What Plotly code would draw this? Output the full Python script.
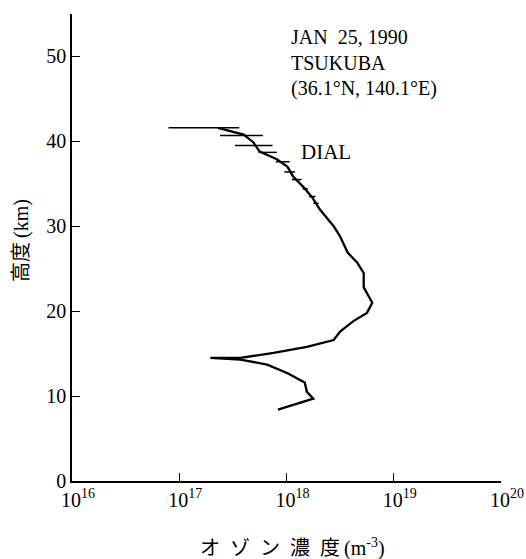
import numpy as np
import plotly.graph_objects as go

# Ozone profile (altitude km, log10 concentration m^-3)
alt_km = [41.6, 41.3, 40.8, 39.9, 38.8, 37.9, 37.0, 35.9, 34.6, 33.4, 32.0, 30.0,
          28.8, 26.9, 25.7, 24.5, 22.8, 21.0, 19.8, 18.8, 17.6, 16.6, 15.8, 15.1,
          14.5, 14.5, 14.3, 13.7, 12.7, 11.6, 10.5, 9.7, 9.2, 8.4]
log_conc = [17.36, 17.45, 17.60, 17.69, 17.75, 17.91, 18.01, 18.06, 18.16, 18.24,
            18.31, 18.44, 18.50, 18.57, 18.66, 18.72, 18.72, 18.80, 18.75, 18.62,
            18.50, 18.44, 18.19, 17.88, 17.57, 17.29, 17.57, 17.82, 18.01, 18.17,
            18.19, 18.25, 18.13, 17.92]

# Error bars (altitude, low and high log10 concentration)
err_alt = [41.6, 40.7, 39.5, 38.7, 37.6, 36.4, 35.5, 34.4, 33.5, 32.7]
err_low = [16.90, 17.38, 17.52, 17.74, 17.90, 17.98, 18.05, 18.15, 18.21, 18.25]
err_high = [17.56, 17.78, 17.87, 17.91, 18.03, 18.08, 18.14, 18.20, 18.27, 18.30]

x_tick_exp = [16, 17, 18, 19, 20]
y_ticks = [0, 10, 20, 30, 40, 50]

info_lines = ["JAN  25, 1990", "TSUKUBA", "(36.1°N, 140.1°E)"]

conc = [10.0 ** v for v in log_conc]

ex, ey = [], []
for a, lo, hi in zip(err_alt, err_low, err_high):
    ex += [10.0 ** lo, 10.0 ** hi, None]
    ey += [a, a, None]

SERIF = "Liberation Serif, 'Noto Sans CJK JP', serif"

fig = go.Figure()
fig.add_trace(go.Scatter(x=ex, y=ey, mode="lines",
                         line=dict(color="black", width=1.5), hoverinfo="skip",
                         showlegend=False))
fig.add_trace(go.Scatter(x=conc, y=alt_km, mode="lines",
                         line=dict(color="black", width=2.3), showlegend=False))

annotations = []
for i, t in enumerate(info_lines):
    annotations.append(dict(text=t, xref="paper", yref="paper",
                            x=0.505, y=0.951 - i * 0.0555,
                            xanchor="left", yanchor="middle", align="left",
                            showarrow=False, font=dict(size=20, family=SERIF)))
annotations += [
    dict(text="DIAL", xref="paper", yref="paper", x=0.529, y=0.705,
         xanchor="left", yanchor="middle", showarrow=False,
         font=dict(size=21, family=SERIF)),
    dict(text="オ\u2002ゾ\u2002ン\u2002濃\u2002度\u2009(m<sup>-3</sup>)",
         xref="paper", yref="paper",
         x=0.513, y=-0.143, xanchor="center", yanchor="middle",
         showarrow=False, font=dict(size=20, family=SERIF)),
    dict(text="高度\u2009(km)", xref="paper", yref="paper", x=-0.119, y=0.516,
         xanchor="center", yanchor="middle", textangle=-90,
         showarrow=False, font=dict(size=20, family=SERIF)),
]

fig.update_layout(
    width=526, height=559,
    margin=dict(l=72, r=25, t=14, b=78),
    plot_bgcolor="white", paper_bgcolor="white",
    font=dict(family=SERIF, color="black"),
    xaxis=dict(type="log", range=[16, 20], automargin=False,
               tickvals=[10.0 ** e for e in x_tick_exp],
               ticktext=[f"10<sup>{e}</sup>" for e in x_tick_exp],
               ticks="inside", ticklen=8, tickwidth=1.2, tickcolor="black",
               showline=True, linecolor="black", linewidth=1.6,
               showgrid=False, zeroline=False, ticklabelshift=6,
               tickfont=dict(size=20, family=SERIF)),
    yaxis=dict(range=[0, 55], tickvals=y_ticks, automargin=False,
               ticks="inside", ticklen=8, tickwidth=1.2, tickcolor="black",
               showline=True, linecolor="black", linewidth=1.6,
               showgrid=False, zeroline=False,
               tickfont=dict(size=20, family=SERIF)),
    annotations=annotations,
)

fig.write_html("out.html")
